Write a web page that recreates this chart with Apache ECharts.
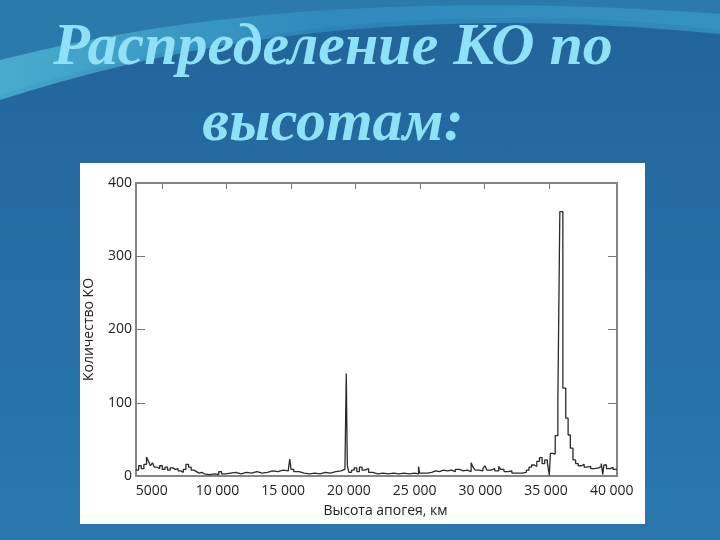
<!DOCTYPE html>
<html>
<head>
<meta charset="utf-8">
<script src="https://cdn.jsdelivr.net/npm/echarts@6/dist/echarts.min.js"></script>
<style>
html, body { margin: 0; padding: 0; }
body { width: 720px; height: 540px; overflow: hidden; position: relative; }
#bg { position: absolute; left: 0; top: 0; }
.paper { position: absolute; left: 80px; top: 163px; width: 565px; height: 361px; background: #fff; }
#chart { position: absolute; left: 0; top: 0; width: 720px; height: 540px; }
</style>
</head>
<body>
<svg id="bg" width="720" height="540">
  <defs>
    <linearGradient id="base" x1="0" y1="0" x2="0" y2="1">
      <stop offset="0" stop-color="#22649a"/>
      <stop offset="1" stop-color="#2a77b0"/>
    </linearGradient>
    <linearGradient id="sw" x1="0" y1="0" x2="1" y2="0">
      <stop offset="0" stop-color="#58c6e2"/>
      <stop offset="0.45" stop-color="#3193c3"/>
      <stop offset="1" stop-color="#3a9fcc"/>
    </linearGradient>
  </defs>
  <rect width="720" height="540" fill="url(#base)"/>
  <path d="M0,0 L720,0 L720,30 C480,0 220,25 0,95 Z" fill="#2a7aab"/>
  <path d="M0,60 C200,8 440,-6 720,14 L720,34 C440,6 210,32 0,100 Z" fill="url(#sw)" opacity="0.65"/>
</svg>
<div class="paper"></div>
<div id="chart"></div>
<script>
// гистограмма: начало интервала (км) и число объектов
var apogeeKm = [3800, 4000, 4200, 4400, 4600, 4750, 4900, 5050, 5200, 5400, 5600, 5800, 6000, 6200, 6400, 6600, 6800, 7000, 7200, 7400,
  7600, 7800, 8000, 8200, 8400, 8600, 8800, 9000, 9400, 9800, 10100, 10300, 10600, 11000, 11400, 11800, 12200, 12600, 13000, 13400,
  13800, 14200, 14600, 15000, 15400, 15500, 15600, 15800, 16200, 16600, 17000, 17400, 17800, 18200, 18600, 19000, 19400, 19700, 19800, 19880,
  20000, 20200, 20400, 20600, 20800, 21000, 21200, 21500, 21800, 22200, 22600, 23000, 23400, 23800, 24200, 24600, 25000, 25300, 25380, 25700,
  26000, 26300, 26600, 26900, 27200, 27500, 27800, 28100, 28400, 28700, 29000, 29300, 29450, 29600, 29900, 30200, 30350, 30500, 30800, 31100,
  31400, 31550, 31800, 32100, 32400, 32800, 33200, 33500, 33700, 33900, 34100, 34300, 34500, 34700, 34900, 35100, 35250, 35330, 35500, 35700,
  35900, 36050, 36280, 36500, 36680, 36850, 37050, 37250, 37450, 37700, 37900, 38100, 38400, 38700, 39000, 39200, 39320, 39400, 39600, 39900,
  40100, 40400];
var objectCount = [8, 14, 10, 16, 26, 20, 14, 18, 12, 10, 14, 9, 12, 8, 11, 9, 10, 7, 5, 9,
  16, 12, 8, 6, 4, 5, 3, 2, 3, 2, 6, 3, 4, 5, 3, 5, 4, 6, 4, 5,
  7, 6, 8, 7, 10, 23, 9, 6, 4, 3, 4, 3, 5, 4, 6, 7, 9, 12, 140, 14,
  5, 8, 11, 6, 12, 8, 10, 5, 3, 4, 3, 4, 3, 4, 3, 4, 3, 13, 4, 4,
  5, 7, 6, 8, 7, 8, 6, 9, 7, 8, 6, 18, 12, 8, 7, 10, 14, 8, 10, 7,
  13, 9, 6, 7, 4, 4, 5, 8, 12, 15, 13, 20, 25, 17, 22, 18, 1, 31, 30, 55,
  102, 361, 120, 79, 56, 38, 22, 17, 14, 16, 12, 13, 10, 11, 13, 17, 2, 15, 10, 12,
  9, 9];

var xTickValues = [5000, 10000, 15000, 20000, 25000, 30000, 35000, 40000];
var xTickLabels = ['5000', '10 000', '15 000', '20 000', '25 000', '30 000', '35 000', '40 000'];
var xTopTicks = [5000, 10000, 15000, 20000, 25000, 30000, 35000];
var yTickValues = [0, 100, 200, 300, 400];
var yInnerTicks = [100, 200, 300];

var seriesData = [];
for (var i = 0; i < apogeeKm.length; i++) {
  seriesData.push([apogeeKm[i], objectCount[i]]);
}

var chart = echarts.init(document.getElementById('chart'));
var frame = { lineStyle: { color: '#858585', width: 2 } };
var labelFont = { color: '#222', fontSize: 14, fontFamily: 'Open Sans' };
var titleStyle = {
  font: 'italic bold 60px "Liberation Serif"',
  fill: '#8fe1f7', align: 'center', verticalAlign: 'middle',
  textAlign: 'center', textVerticalAlign: 'middle',
  shadowColor: 'rgba(5,30,60,0.85)', shadowOffsetX: 2, shadowOffsetY: 2, shadowBlur: 2
};

chart.setOption({
  animation: false,
  grid: { left: 136, right: 103, top: 183, bottom: 64 },
  graphic: [
    { type: 'text', x: 333, y: 48, style: Object.assign({ text: 'Распределение КО по' }, titleStyle) },
    { type: 'text', x: 333, y: 124, style: Object.assign({ text: 'высотам:' }, titleStyle) }
  ],
  xAxis: [
    {
      type: 'value', position: 'bottom', min: 3800, max: 40400,
      axisLine: { onZero: false, lineStyle: frame.lineStyle },
      axisTick: { show: false },
      splitLine: { show: false },
      axisLabel: Object.assign({
        customValues: xTickValues, margin: 8,
        formatter: function (v) { return xTickLabels[xTickValues.indexOf(v)]; }
      }, labelFont),
      name: 'Высота апогея, км', nameLocation: 'middle', nameGap: 28,
      nameTextStyle: { color: '#222', fontSize: 14, fontFamily: 'Open Sans', padding: [0, 0, 0, 18] }
    },
    {
      type: 'value', position: 'top', min: 2985, max: 40270,
      axisLine: { onZero: false, lineStyle: frame.lineStyle },
      axisTick: { inside: true, length: 6, customValues: xTopTicks, lineStyle: { color: '#777' } },
      axisLabel: { show: false },
      splitLine: { show: false }
    }
  ],
  yAxis: [
    {
      type: 'value', position: 'left', min: 0, max: 400,
      axisLine: { show: true, onZero: false, lineStyle: frame.lineStyle },
      axisTick: { inside: true, length: 9, customValues: yInnerTicks, lineStyle: { color: '#777' } },
      splitLine: { show: false },
      axisLabel: Object.assign({ customValues: yTickValues, margin: 4 }, labelFont),
      name: 'Количество КО', nameLocation: 'middle', nameGap: 40,
      nameTextStyle: { color: '#222', fontSize: 14, fontFamily: 'Open Sans' }
    },
    {
      type: 'value', position: 'right', min: 0, max: 400,
      axisLine: { show: true, onZero: false, lineStyle: frame.lineStyle },
      axisTick: { inside: true, length: 9, customValues: yInnerTicks, lineStyle: { color: '#777' } },
      axisLabel: { show: false },
      splitLine: { show: false }
    }
  ],
  series: [
    {
      type: 'line', step: 'end', data: seriesData,
      xAxisIndex: 0, yAxisIndex: 0,
      showSymbol: false, symbol: 'none',
      lineStyle: { color: '#2a2a2a', width: 1.3 },
      clip: true
    }
  ]
});
</script>
</body>
</html>
